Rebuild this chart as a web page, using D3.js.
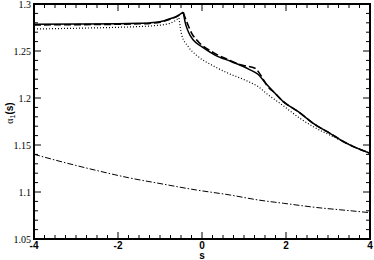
<!DOCTYPE html>
<html>
<head>
<meta charset="utf-8">
<script src="https://cdn.jsdelivr.net/npm/d3@7"></script>
<style>
  body { margin: 0; background: #fff; }
  svg { display: block; }
</style>
</head>
<body>
<svg id="chart" width="374" height="260"></svg>
<script>
// s values and alpha_1(s) for each curve
const solidS = [-4, -3, -2, -1.5, -1.24, -1.0, -0.76, -0.6, -0.445, -0.405, -0.326, -0.207, -0.007, 0.31, 0.707, 1.12, 1.34, 1.5, 1.738, 1.936, 2.293, 2.65, 3.048, 3.445, 4];
const solidV = [1.2784, 1.2786, 1.279, 1.2795, 1.2799, 1.2811, 1.2843, 1.287, 1.2913, 1.2812, 1.2705, 1.2617, 1.2546, 1.2457, 1.2386, 1.2305, 1.2250, 1.2165, 1.2050, 1.1961, 1.1854, 1.173, 1.1624, 1.1518, 1.1412];

const dashS = [-4, -3, -2, -1.5, -1.24, -1.0, -0.76, -0.6, -0.445, -0.365, -0.245, -0.088, 0.231, 0.548, 0.945, 1.262, 1.421, 1.54, 1.738, 1.936, 2.293, 2.65, 3.048, 3.445, 4];
const dashV = [1.2778, 1.278, 1.2785, 1.279, 1.2794, 1.2806, 1.2839, 1.2866, 1.2908, 1.2812, 1.2688, 1.2599, 1.2493, 1.2422, 1.2351, 1.2316, 1.2227, 1.2138, 1.2050, 1.1961, 1.1854, 1.173, 1.1624, 1.1518, 1.1412];

const dotS = [-4, -3, -2, -1.5, -1.14, -0.76, -0.548, -0.483, -0.326, -0.088, 0.231, 0.626, 1.024, 1.34, 1.579, 1.857, 2.333, 2.65, 3.126, 3.445, 4];
const dotV = [1.2734, 1.2742, 1.2752, 1.2760, 1.2769, 1.2795, 1.2851, 1.267, 1.2546, 1.2439, 1.2351, 1.2263, 1.2191, 1.212, 1.2032, 1.1944, 1.1784, 1.1695, 1.1588, 1.1518, 1.1412];

const dashDotS = [-4, -3.2, -2.5, -1.75, -1, -0.13, 0.67, 1.34, 1.94, 2.73, 3.5, 4];
const dashDotV = [1.1401, 1.1305, 1.1228, 1.1152, 1.1090, 1.1021, 1.0968, 1.0915, 1.0880, 1.0835, 1.0802, 1.0780];

const xTicks = [-4, -2, 0, 2, 4];
const yTicks = [1.05, 1.1, 1.15, 1.2, 1.25, 1.3];
const yTickLabels = ['1.05', '1.1', '1.15', '1.2', '1.25', '1.3'];

const svg = d3.select('#chart');
const margin = { top: 4, right: 4, bottom: 21, left: 34 };
const width = 374 - margin.left - margin.right;
const height = 260 - margin.top - margin.bottom;

const x = d3.scaleLinear().domain([-4, 4]).range([0, width]);
const y = d3.scaleLinear().domain([1.05, 1.3]).range([height, 0]);

const g = svg.append('g')
    .attr('transform', `translate(${margin.left},${margin.top})`);

const xMinor = d3.range(-4, 4.001, 0.25);
const yMinor = d3.range(1.05, 1.3001, 0.01);

// ticks pointing inwards on all four sides
const tickG = g.append('g').attr('stroke', '#000').attr('stroke-width', 1);
xMinor.forEach(v => {
    const major = xTicks.some(t => Math.abs(t - v) < 1e-6);
    const len = major ? 7 : 4;
    tickG.append('line').attr('x1', x(v)).attr('x2', x(v)).attr('y1', height).attr('y2', height - len);
    tickG.append('line').attr('x1', x(v)).attr('x2', x(v)).attr('y1', 0).attr('y2', len);
});
yMinor.forEach(v => {
    const major = yTicks.some(t => Math.abs(t - v) < 1e-6);
    const len = major ? 7 : 4;
    tickG.append('line').attr('x1', 0).attr('x2', len).attr('y1', y(v)).attr('y2', y(v));
    tickG.append('line').attr('x1', width).attr('x2', width - len).attr('y1', y(v)).attr('y2', y(v));
});

g.append('g').selectAll('text')
    .data(xTicks)
    .join('text')
    .attr('x', d => x(d))
    .attr('y', height + 10)
    .attr('text-anchor', 'middle')
    .attr('font-family', 'Liberation Sans, Arial, sans-serif')
    .attr('font-weight', 'bold')
    .attr('font-size', 10)
    .text(d => d);

g.append('g').selectAll('text')
    .data(yTicks)
    .join('text')
    .attr('x', -3)
    .attr('y', d => y(d) + 3.5)
    .attr('text-anchor', 'end')
    .attr('font-family', 'Liberation Serif, Times New Roman, serif')
    .attr('font-size', 10)
    .text((d, i) => yTickLabels[i]);

g.append('text')
    .attr('x', width / 2)
    .attr('y', height + 20)
    .attr('text-anchor', 'middle')
    .attr('font-family', 'Liberation Sans, Arial, sans-serif')
    .attr('font-weight', 'bold')
    .attr('font-size', 10)
    .text('s');

const yl = svg.append('text')
    .attr('transform', 'translate(13,113) rotate(-90)')
    .attr('text-anchor', 'middle')
    .attr('font-size', 10);
yl.append('tspan').attr('font-family', 'Liberation Serif, serif').text('\u03b1');
yl.append('tspan').attr('font-family', 'Liberation Sans, sans-serif').attr('font-size', 7).attr('dy', 2).text('1');
yl.append('tspan').attr('font-family', 'Liberation Sans, sans-serif').attr('font-weight', 'bold').attr('dy', -2).text('(s)');

const line = d3.line()
    .x(d => x(d[0]))
    .y(d => y(d[1]))
    .curve(d3.curveMonotoneX);

// smooth each side of the cusp separately so the peak stays sharp
function cuspPath(pts) {
    let k = d3.maxIndex(pts.slice(0, pts.length / 2 + 6), d => d[1]);
    if (pts[0][1] < 1.2) return line(pts);
    return line(pts.slice(0, k + 1)) + line(pts.slice(k));
}

const series = [
    { s: dashDotS, v: dashDotV, dash: '6,2,1.5,2', w: 1 },
    { s: dotS, v: dotV, dash: '1,2', w: 1.2 },
    { s: dashS, v: dashV, dash: '7,3', w: 1.6 },
    { s: solidS, v: solidV, dash: null, w: 1.5 }
];

series.forEach(sr => {
    g.append('path')
        .datum(d3.zip(sr.s, sr.v))
        .attr('fill', 'none')
        .attr('stroke', '#000')
        .attr('stroke-width', sr.w)
        .attr('stroke-dasharray', sr.dash)
        .attr('stroke-linejoin', 'round')
        .attr('d', d => cuspPath(d));
});

g.append('rect')
    .attr('width', width)
    .attr('height', height)
    .attr('fill', 'none')
    .attr('stroke', '#000')
    .attr('stroke-width', 2);
</script>
</body>
</html>
